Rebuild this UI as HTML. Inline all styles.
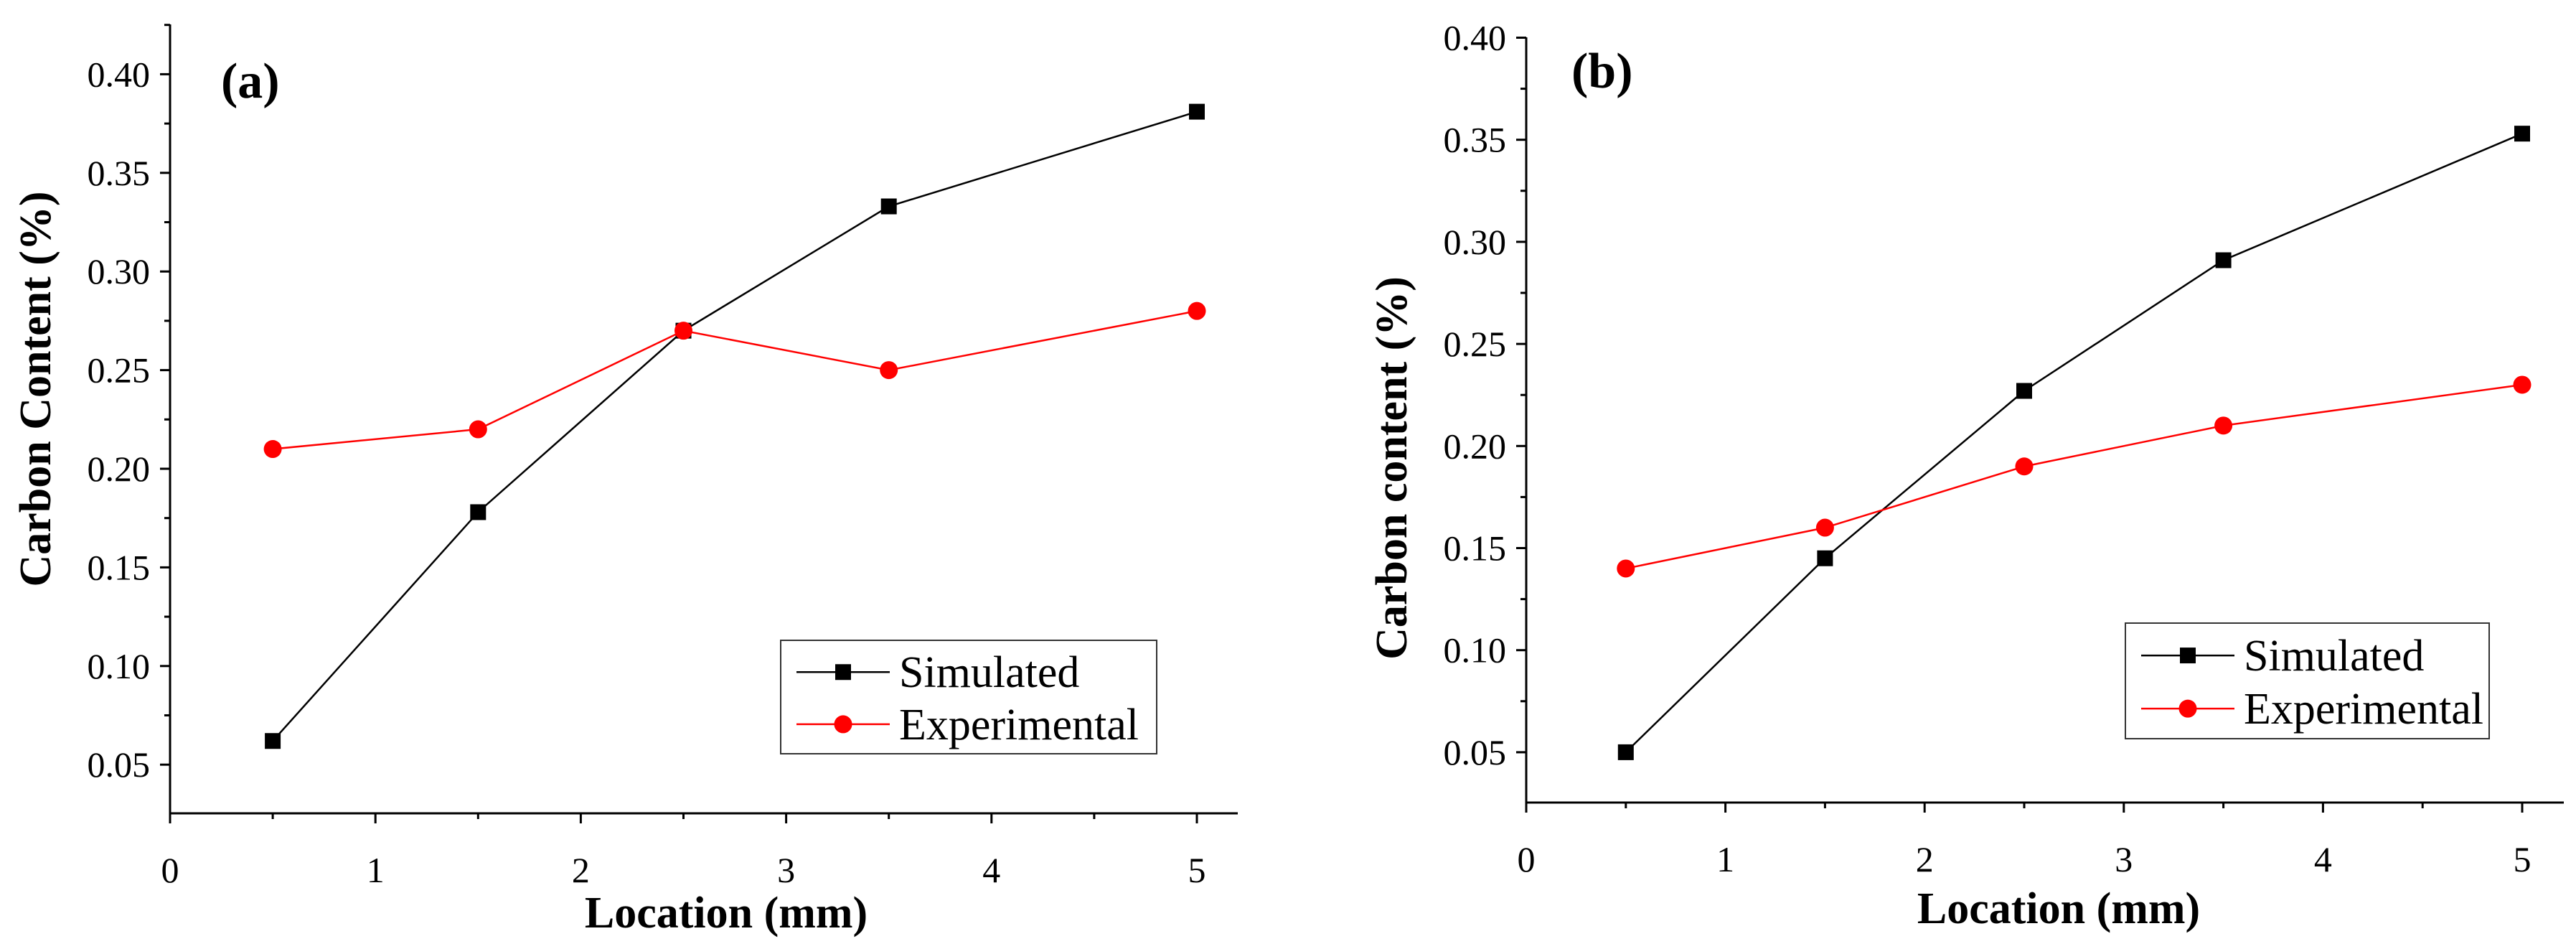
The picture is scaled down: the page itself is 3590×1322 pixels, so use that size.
<!DOCTYPE html>
<html><head><meta charset="utf-8"><style>
html,body{margin:0;padding:0;background:#fff}
svg{display:block}
text{font-family:"Liberation Serif",serif}
</style></head><body>
<svg id="c" width="3590" height="1322" viewBox="0 0 3590 1322" xmlns="http://www.w3.org/2000/svg"></svg>
<script>
const xValues = [0.5, 1.5, 2.5, 3.5, 5];
const simA = [0.062, 0.178, 0.27, 0.333, 0.381];
const expA = [0.21, 0.22, 0.27, 0.25, 0.28];
const simB = [0.05, 0.145, 0.227, 0.291, 0.353];
const expB = [0.14, 0.16, 0.19, 0.21, 0.23];
const xTicks = [0, 1, 2, 3, 4, 5];
const yTicks = [0.05, 0.10, 0.15, 0.20, 0.25, 0.30, 0.35, 0.40];
const legendLabels = ["Simulated", "Experimental"];

const NS = "http://www.w3.org/2000/svg";
const svg = document.getElementById('c');
function mk(tag, attrs, parent, txt) {
  const e = document.createElementNS(NS, tag);
  for (const k in attrs) e.setAttribute(k, attrs[k]);
  if (txt !== undefined) e.textContent = txt;
  (parent || svg).appendChild(e);
  return e;
}

function panel(p) {
  const g = mk('g', {});
  
  
  const sx = v => p.x0 + v * p.xu;
  const sy = v => p.y40 + (0.40 - v) / 0.05 * p.yu;
  const ya = mk('line', {x1: p.x0, y1: p.top, x2: p.x0, y2: p.bot, stroke: '#000', 'stroke-width': 3}, g);
  
  
  const xa = mk('line', {x1: p.x0 - 1.5, y1: p.bot, x2: p.right, y2: p.bot, stroke: '#000', 'stroke-width': 3}, g);
  
  
  for (let v = 0; v <= 5.01; v += 0.5) {
    const major = Math.abs(v - Math.round(v)) < 1e-6;
    mk('line', {x1: sx(v), y1: p.bot, x2: sx(v), y2: p.bot + (major ? 14 : 8), stroke: '#000', 'stroke-width': 3}, g);
  }
  xTicks.forEach(t => {
    const tl = mk('text', {x: sx(t), y: p.bot + 96, 'font-size': 50, 'text-anchor': 'middle'}, g, String(t));
    
    
  });
  for (let v = p.ymin; v <= 0.4 + p.ytopExtra; v += 0.025) {
    const yy = sy(v);
    if (yy < p.top || yy > p.bot) continue;
    const major = Math.abs(v / 0.05 - Math.round(v / 0.05)) < 1e-6;
    mk('line', {x1: p.x0, y1: yy, x2: p.x0 - (major ? 14 : 8), y2: yy, stroke: '#000', 'stroke-width': 3}, g);
  }
  yTicks.forEach(t => {
    const tl = mk('text', {x: p.x0 - 28, y: sy(t) + 17, 'font-size': 50, 'text-anchor': 'end'}, g, t.toFixed(2));
    
    
  });
  const xt = mk('text', {x: p.xtX, y: p.xtY, 'font-size': 62, 'font-weight': 'bold', 'text-anchor': 'middle'}, g, 'Location (mm)');
  
  
  const yt = mk('text', {x: 0, y: 0, 'font-size': 62, 'font-weight': 'bold', 'text-anchor': 'middle', transform: `translate(${p.ytX},${p.ytY}) rotate(-90)`}, g, p.ytitle);
  
  
  const pl = mk('text', {x: p.lblX, y: p.lblY, 'font-size': 70, 'font-weight': 'bold'}, g, p.label);
  
  
  const series = [[p.sim, '#000', 'sq'], [p.exp, '#ff0000', 'ci']];
  series.forEach(([vals, col, m], si) => {
    const pts = vals.map((v, i) => sx(xValues[i]) + ',' + sy(v)).join(' ');
    const ln = mk('polyline', {points: pts, fill: 'none', stroke: col, 'stroke-width': 2.5}, g);
    
    
    vals.forEach((v, i) => {
      let mEl;
      if (m === 'sq') mEl = mk('rect', {x: sx(xValues[i]) - 11, y: sy(v) - 11, width: 22, height: 22, fill: col}, g);
      else mEl = mk('circle', {cx: sx(xValues[i]), cy: sy(v), r: 12.5, fill: col}, g);
      
      
    });
  });
  const L = p.leg;
  const lb = mk('rect', {x: L.x, y: L.y, width: L.w, height: L.h, fill: '#fff', stroke: '#333', 'stroke-width': 2}, g);
  
  
  series.forEach(([vals, col, m], si) => {
    const yy = L.y + L.h * (si ? 0.74 : 0.28);
    mk('line', {x1: L.x + 22, y1: yy, x2: L.x + 152, y2: yy, stroke: col, 'stroke-width': 2.5}, g);
    const cx = L.x + 87;
    if (m === 'sq') mk('rect', {x: cx - 11, y: yy - 11, width: 22, height: 22, fill: col}, g);
    else mk('circle', {cx: cx, cy: yy, r: 12.5, fill: col}, g);
    const t = mk('text', {x: L.x + 165, y: yy + 21, 'font-size': 62}, g, legendLabels[si]);
    
    
  });
}

panel({id: 'a', x0: 237, xu: 286.2, y40: 103.4, yu: 137.4, top: 34, bot: 1133, right: 1725,
  ymin: 0.025, ytopExtra: 0.03, sim: simA, exp: expA, ytitle: 'Carbon Content (%)', label: '(a)',
  xtX: 1012, xtY: 1292, ytX: 70, ytY: 542, lblX: 308, lblY: 136,
  leg: {x: 1088, y: 892, w: 524, h: 158}});
panel({id: 'b', x0: 2127, xu: 277.6, y40: 52.5, yu: 142.2, top: 52, bot: 1118, right: 3573,
  ymin: 0.025, ytopExtra: 0.001, sim: simB, exp: expB, ytitle: 'Carbon content (%)', label: '(b)',
  xtX: 2869, xtY: 1286, ytX: 1960, ytY: 652, lblX: 2190, lblY: 122,
  leg: {x: 2962, y: 868, w: 507, h: 161}});
</script>
</body></html>
